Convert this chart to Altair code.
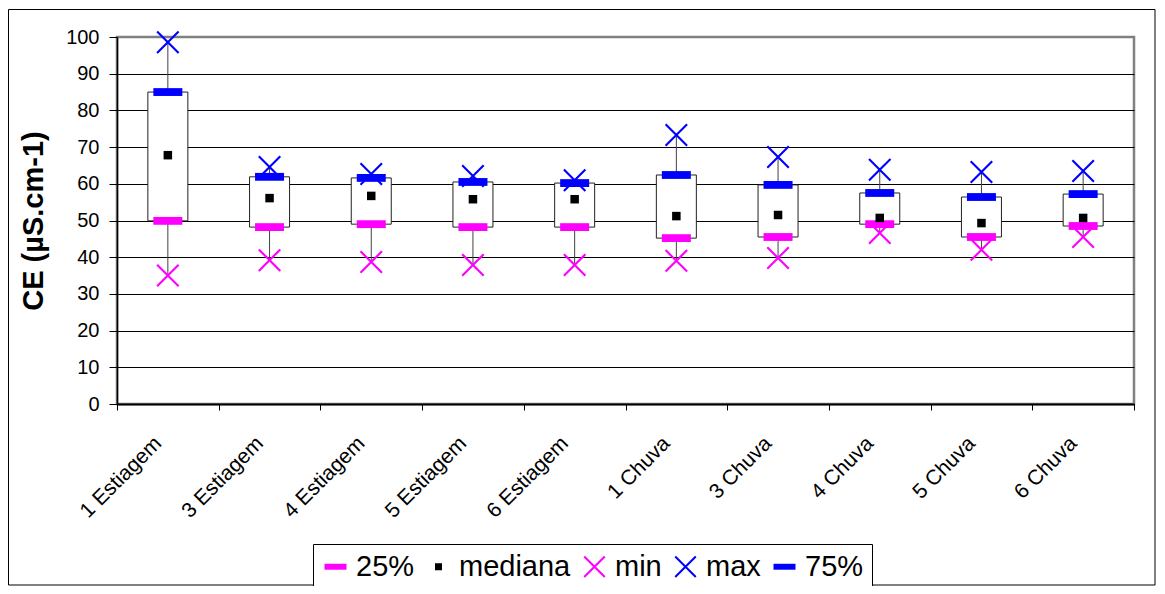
import altair as alt
import pandas as pd

categories = ["1 Estiagem", "3 Estiagem", "4 Estiagem", "5 Estiagem", "6 Estiagem",
              "1 Chuva", "3 Chuva", "4 Chuva", "5 Chuva", "6 Chuva"]
min_vals = [35.0, 39.2, 38.7, 37.9, 37.9, 39.0, 39.8, 46.6, 42.0, 45.5]
q25_vals = [49.9, 48.2, 49.0, 48.2, 48.2, 45.2, 45.5, 49.0, 45.5, 48.5]
median_vals = [67.8, 56.1, 56.7, 55.8, 55.8, 51.2, 51.5, 50.7, 49.3, 50.7]
q75_vals = [85.0, 61.9, 61.6, 60.5, 60.2, 62.4, 59.7, 57.5, 56.4, 57.2]
max_vals = [98.6, 64.6, 62.7, 62.1, 61.0, 73.3, 67.3, 63.8, 63.2, 63.5]

series_names = ["25%", "mediana", "min", "max", "75%"]
series_colors = ["#FF00FF", "#000000", "#FF00FF", "#0000FF", "#0000FF"]

DASH = "M-1,-0.27H1V0.27H-1Z"
SQUARE = "M-0.32,-0.32H0.32V0.32H-0.32Z"
XMARK = ("M-1,-0.87L-0.87,-1L1,0.87L0.87,1Z "
         "M0.87,-1L1,-0.87L-0.87,1L-1,0.87Z")
series_shapes = [DASH, SQUARE, XMARK, XMARK, DASH]
series_sizes = [841, 706, 529, 529, 841]

wide = pd.DataFrame({"cat": categories, "mn": min_vals, "q25": q25_vals,
                     "med": median_vals, "q75": q75_vals, "mx": max_vals})
rows = []
for name, vals in zip(series_names, [q25_vals, median_vals, min_vals, max_vals, q75_vals]):
    for c, v in zip(categories, vals):
        rows.append({"cat": c, "serie": name, "val": v})
long = pd.DataFrame(rows)

FONT = "Liberation Sans"
TITLE = "CE (µS.cm-1)"

x_enc = alt.X("cat:N",
              scale=alt.Scale(domain=categories, paddingInner=0, paddingOuter=0),
              axis=alt.Axis(tickBand="extent", labelAngle=-45, labelAlign="right",
                            labelBaseline="middle", labelPadding=30, labelOffset=-10,
                            labelFontSize=21, labelFont=FONT, labelColor="black",
                            tickSize=6, tickColor="black", domainColor="black",
                            domainWidth=2, grid=False, labelLimit=300),
              title=None)

y_scale = alt.Scale(domain=[0, 100], nice=False, zero=True)
y_axis = alt.Axis(values=list(range(0, 101, 10)), labelFontSize=20, labelFont=FONT,
                  labelColor="black", tickSize=8, tickColor="black", labelPadding=10,
                  domainColor="black", domainWidth=1.5, grid=True, gridColor="black",
                  gridWidth=1,
                  gridOpacity=alt.condition("datum.value >= 100", alt.value(0), alt.value(1)),
                  titleFontSize=29, titleFont=FONT, titleFontWeight="bold",
                  titleColor="black", titlePadding=17)

color_scale = alt.Scale(domain=series_names, range=series_colors)
shape_scale = alt.Scale(domain=series_names, range=series_shapes)
legend = alt.Legend(orient="none", legendX=196, legendY=507, direction="horizontal",
                    title=None, labelFontSize=29, labelFont=FONT, labelColor="black",
                    symbolSize=484, symbolStrokeWidth=0, labelOffset=6,
                    columnPadding=9, padding=8, strokeColor="black",
                    fillColor="white", labelLimit=300)

frame = alt.Chart(pd.DataFrame({"f": [0]})).mark_rect(
    fill="white", fillOpacity=0, stroke="black", strokeWidth=1
).encode(x=alt.value(-108.5), x2=alt.value(1038), y=alt.value(-27.5), y2=alt.value(548))

whisker = alt.Chart(wide).mark_rule(color="#404040", strokeWidth=1).encode(
    x=x_enc,
    y=alt.Y("mn:Q", scale=y_scale, axis=y_axis, title=TITLE),
    y2="mx:Q")

box = alt.Chart(wide).mark_bar(size=40, fill="white", stroke="#222222",
                               strokeWidth=1, opacity=1).encode(
    x=x_enc,
    y=alt.Y("q25:Q", scale=y_scale, axis=y_axis, title=TITLE),
    y2="q75:Q")

layers = [frame, whisker, box]
for name, size in zip(series_names, series_sizes):
    layers.append(
        alt.Chart(long).transform_filter(alt.datum.serie == name)
        .mark_point(filled=True, opacity=1, size=size, strokeWidth=0)
        .encode(
            x=x_enc,
            y=alt.Y("val:Q", scale=y_scale, axis=y_axis, title=TITLE),
            color=alt.Color("serie:N", scale=color_scale, legend=legend),
            shape=alt.Shape("serie:N", scale=shape_scale, legend=legend),
        )
    )

chart = alt.layer(*layers).properties(
    width=1017, height=367,
    padding={"left": 109, "top": 29, "right": 22, "bottom": 182},
    autosize=alt.AutoSizeParams(type="none"),
    background="white",
).configure_view(stroke="#808080", strokeWidth=2.5)

chart.save("out.html", embed_options={"renderer": "svg", "actions": False})
